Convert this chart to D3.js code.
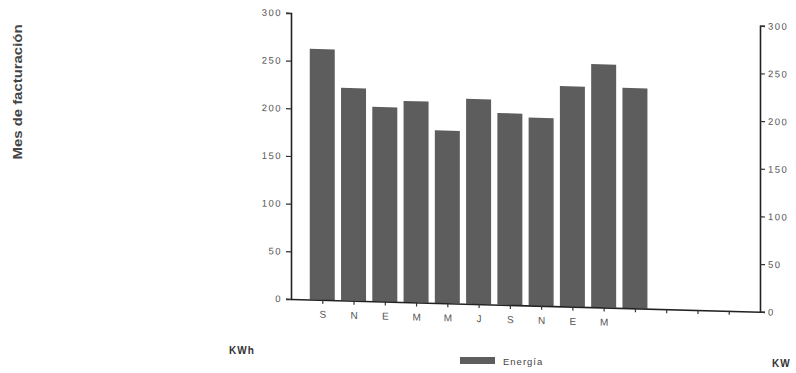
<!DOCTYPE html>
<html>
<head>
<meta charset="utf-8">
<script src="https://cdn.jsdelivr.net/npm/d3@7"></script>
<style>
  html, body { margin: 0; padding: 0; background: #fff; }
  svg { display: block; }
</style>
</head>
<body>
<svg id="chart" width="796" height="373"></svg>
<script>
// ---- data ----
const months = ["S", "N", "E", "M", "M", "J", "S", "N", "E", "M", ""];
const energia = [263, 223, 204, 211, 181, 215, 201, 197, 231, 255, 231];
const yTicks = [0, 50, 100, 150, 200, 250, 300];
const xTickPositions = [1, 2, 3, 4, 5, 6, 7, 8, 9, 10, 11, 12, 13, 14];
const seriesName = "Energía";
const yTitle = "Mes de facturación";
const leftUnit = "KWh";
const rightUnit = "KW";

const svg = d3.select("#chart");
const x0 = 291, x1 = 760, yBase = 299, yTop = 13;

const x = d3.scaleLinear().domain([0, 15]).range([x0, x1]);
const y = d3.scaleLinear().domain([0, 300]).range([yBase, yTop]);

// slight skew from the scanned original
const g = svg.append("g")
  .attr("transform", `translate(${x0},0) skewY(1.55) translate(${-x0},0)`);

// bars
g.selectAll("rect.bar")
  .data(energia)
  .enter().append("rect")
  .attr("class", "bar")
  .attr("x", (d, i) => x(i + 1) - 12.5)
  .attr("width", 25)
  .attr("y", d => y(d))
  .attr("height", d => y(0) - y(d))
  .attr("fill", "#5d5d5d");

const tickFont = "Liberation Sans, Arial, sans-serif";

// left axis
const leftAxis = g.append("g")
  .attr("transform", `translate(${x0},0)`)
  .call(d3.axisLeft(y).tickValues(yTicks).tickSize(5).tickPadding(4));
// right axis
const rightAxis = g.append("g")
  .attr("transform", `translate(${x1},0)`)
  .call(d3.axisRight(y).tickValues(yTicks).tickSize(5).tickPadding(3));
// bottom axis
const bottomAxis = g.append("g")
  .attr("transform", `translate(0,${yBase})`)
  .call(d3.axisBottom(x).tickValues(xTickPositions)
    .tickFormat(d => months[d - 1] || "")
    .tickSize(4).tickPadding(7).tickSizeOuter(0));

[leftAxis, rightAxis, bottomAxis].forEach(a => {
  a.select(".domain").attr("stroke", "#222").attr("stroke-width", 1.6);
  a.selectAll(".tick line").attr("stroke", "#333").attr("stroke-width", 1.2);
  a.selectAll(".tick text")
    .attr("fill", "#555")
    .style("font-family", tickFont)
    .style("font-size", "9.5px")
    .style("letter-spacing", "1.5px");
});
bottomAxis.selectAll(".tick text").style("letter-spacing", "0px").style("font-size", "10px");

// rotated title
svg.append("text")
  .attr("transform", "translate(22,92) rotate(-90)")
  .attr("text-anchor", "middle")
  .attr("textLength", 135)
  .attr("lengthAdjust", "spacingAndGlyphs")
  .style("font-family", "Liberation Sans Narrow, Arial Narrow, Liberation Sans, sans-serif")
  .style("font-weight", "bold")
  .style("font-size", "13px")
  .attr("fill", "#444")
  .text(yTitle);

// units
svg.append("text")
  .attr("x", 229).attr("y", 354)
  .style("font-family", tickFont)
  .style("font-weight", "bold")
  .style("font-size", "10px")
  .style("letter-spacing", "1px")
  .attr("fill", "#333")
  .text(leftUnit);

svg.append("text")
  .attr("x", 772).attr("y", 367)
  .style("font-family", tickFont)
  .style("font-weight", "bold")
  .style("font-size", "10px")
  .style("letter-spacing", "1px")
  .attr("fill", "#333")
  .text(rightUnit);

// legend
const lg = svg.append("g").attr("transform", "translate(460,357)");
lg.append("rect")
  .attr("x", 0).attr("y", 0).attr("width", 35).attr("height", 7)
  .attr("fill", "#5d5d5d");
lg.append("text")
  .attr("x", 43).attr("y", 8)
  .style("font-family", tickFont)
  .style("font-size", "9.5px")
  .style("letter-spacing", "1px")
  .attr("fill", "#444")
  .text(seriesName);
</script>
</body>
</html>
